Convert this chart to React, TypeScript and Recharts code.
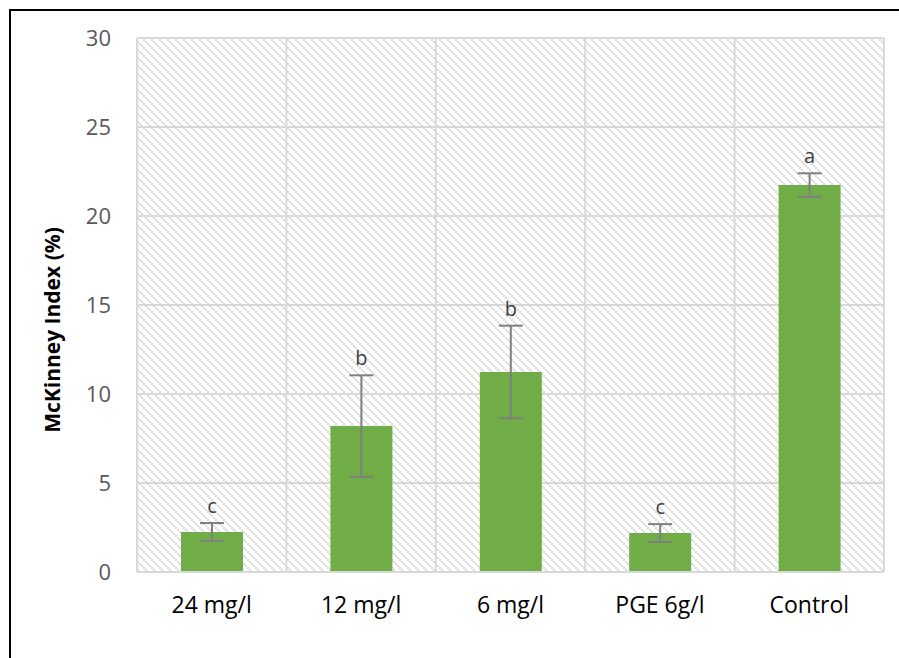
import { BarChart, Bar, XAxis, YAxis, CartesianGrid, ErrorBar, LabelList } from 'recharts';

const categories = ['24 mg/l', '12 mg/l', '6 mg/l', 'PGE 6g/l', 'Control'];
const values = [2.25, 8.2, 11.24, 2.19, 21.74];
const errors = [0.5, 2.85, 2.6, 0.5, 0.66];
const letters = ['c', 'b', 'b', 'c', 'a'];
const yTicks = [0, 5, 10, 15, 20, 25, 30];

const data = categories.map((name, i) => ({
  name,
  value: values[i],
  err: errors[i],
  letter: letters[i],
}));

const FONT = '"Open Sans", sans-serif';

// letter sits just above the top of the error bar
const LetterLabel = (props: any) => {
  const { x, y, width, height, index, value } = props;
  const v = values[index];
  const pxPerUnit = v > 0 ? height / v : 0;
  const errTop = y - errors[index] * pxPerUnit;
  return (
    <text
      x={x + width / 2}
      y={errTop - 10}
      textAnchor="middle"
      fill="#404040"
      fontSize={20}
      fontFamily={FONT}
    >
      {value}
    </text>
  );
};

const AxisTitle = () => (
  <text
    x={41}
    y={319}
    transform="rotate(-90, 41, 319)"
    textAnchor="middle"
    dominantBaseline="central"
    fill="#000"
    fontSize={21}
    fontWeight="bold"
    fontFamily={FONT}
  >
    McKinney Index (%)
  </text>
);

export default function App() {
  return (
    <div
      style={{
        position: 'fixed',
        left: 0,
        top: 0,
        width: 899,
        height: 658,
        overflow: 'hidden',
        background: '#fff',
      }}
    >
      <div style={{ position: 'absolute', left: 9, top: 9, width: 890, height: 2, background: '#000' }} />
      <div style={{ position: 'absolute', left: 9, top: 9, width: 2, height: 649, background: '#000' }} />
      <div style={{ position: 'absolute', left: 11, top: 11 }}>
        <BarChart
          width={888}
          height={647}
          data={data}
          margin={{ top: 27, right: 15, bottom: 56, left: 86 }}
        >
          <defs>
            <pattern id="hatch" patternUnits="userSpaceOnUse" width="8" height="8">
              <rect width="8" height="8" fill="#ffffff" />
              <rect x="0" y="0" width="2" height="2" fill="#d9d9d9" />
              <rect x="2" y="2" width="2" height="2" fill="#d9d9d9" />
              <rect x="4" y="4" width="2" height="2" fill="#d9d9d9" />
              <rect x="6" y="6" width="2" height="2" fill="#d9d9d9" />
            </pattern>
          </defs>
          <CartesianGrid
            stroke="#d9d9d9"
            strokeWidth={2}
            fill="url(#hatch)"
            verticalCoordinatesGenerator={({ offset }: any) =>
              categories
                .map((_, i) => offset.left + (i * offset.width) / categories.length)
                .concat(offset.left + offset.width)
            }
          />
          <XAxis
            dataKey="name"
            axisLine={{ stroke: '#d9d9d9', strokeWidth: 2 }}
            tickLine={false}
            tickMargin={19}
            tick={{ fill: '#000', fontSize: 23, fontFamily: FONT }}
            interval={0}
          />
          <YAxis
            domain={[0, 30]}
            ticks={yTicks}
            width={40}
            axisLine={false}
            tickLine={false}
            tickMargin={20}
            tick={{ fill: '#595959', fontSize: 22, fontFamily: FONT }}
            label={{ content: AxisTitle }}
          />
          <Bar dataKey="value" fill="#70ad47" barSize={62} isAnimationActive={false}>
            <ErrorBar dataKey="err" width={12} stroke="#7f7f7f" strokeWidth={2} />
            <LabelList dataKey="letter" content={LetterLabel} />
          </Bar>
        </BarChart>
      </div>
    </div>
  );
}
